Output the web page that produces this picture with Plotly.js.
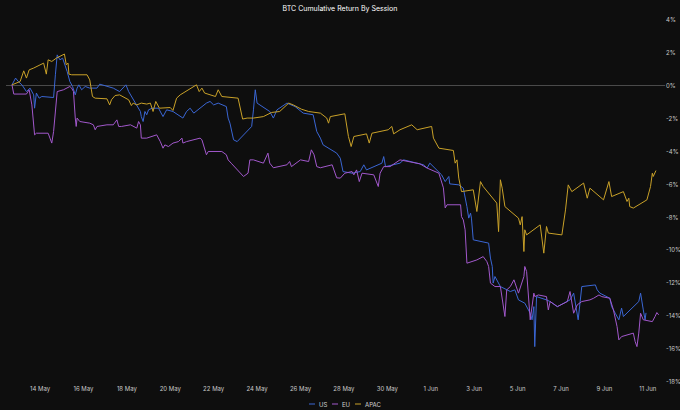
<!DOCTYPE html>
<html>
<head>
<meta charset="utf-8">
<script src="https://cdn.plot.ly/plotly-3.0.1.min.js"></script>
<style>
  html, body { margin: 0; padding: 0; background: #0e0e0e; }
  #chart { width: 680px; height: 410px; }
</style>
</head>
<body>
<div id="chart"></div>
<script>
// Start of the hourly timeline (hour offsets below are counted from here)
const startTime = '2025-05-12T00:00:00Z';

// US session cumulative return (%)
const usHours = [17,21,24,28,33,37,41,42,44,47,50,63,65,67,70,73,78,81,84,87,89,91,94,98,103,111,114,129,136,141,143,146,151,155,159,160,162,164,166,168,172,179,184,188,195,206,210,214,218,232,236,240,245,254,256,258,262,266,277,282,284,286,288,302,306,310,321,330,339,350,354,358,361,376,380,383,393,402,406,409,426,428,430,446,450,465,472,476,479,492,496,500,501,511,516,520,522,524,525,527,544,546,548,549,551,557,568,573,577,584,590,592,594,595,597,608,612,620,634,638,643,647,662,664,667,678,680,684,688,691,693,710,712,715,717,718];
const usReturn = [0.06,0.47,0.26,0.06,-0.35,-0.14,-0.55,-1.36,-0.44,-0.75,-0.65,-0.71,0.67,1.88,1.58,1.68,0.87,0.26,-0.04,-0.55,-0.14,0.06,-0.24,-0.04,-0.14,-0.14,0.10,-0.14,-0.35,-0.04,0.06,-0.35,-0.85,-1.16,-1.56,-1.87,-2.17,-1.56,-1.76,-1.46,-1.36,-1.36,-1.87,-1.46,-1.56,-1.96,-1.56,-1.36,-1.66,-1.05,-0.95,-1.16,-1.05,-1.26,-1.96,-2.27,-3.28,-3.39,-2.78,-2.47,-1.46,-0.24,-1.05,-1.56,-1.96,-1.46,-1.05,-1.26,-1.66,-1.76,-2.78,-3.18,-3.59,-4.09,-4.40,-5.21,-5.31,-5.21,-4.80,-5.11,-4.70,-4.30,-4.91,-4.70,-4.50,-4.70,-4.80,-5.00,-4.70,-5.41,-5.82,-5.51,-5.96,-6.02,-6.22,-7.34,-8.04,-7.74,-8.04,-9.36,-9.56,-10.47,-10.98,-11.99,-11.59,-12.20,-12.50,-12.40,-13.01,-13.21,-13.82,-14.22,-13.42,-15.85,-12.81,-13.01,-13.11,-13.42,-13.01,-12.60,-14.22,-12.20,-12.10,-12.40,-12.60,-12.91,-13.42,-13.82,-14.22,-13.51,-14.02,-13.11,-12.60,-13.62,-14.22,-13.80];

// EU session cumulative return (%)
const euHours = [17,19,33,36,39,41,42,44,57,59,61,63,66,67,74,81,83,85,87,88,89,92,103,107,109,111,122,129,133,135,138,148,155,157,159,160,166,177,181,184,186,190,195,201,205,206,210,225,227,230,232,234,249,254,256,260,273,278,280,284,295,300,302,306,321,324,326,336,345,348,351,354,358,371,376,380,385,393,395,398,401,404,417,422,424,428,435,446,468,476,489,494,496,498,513,514,516,518,520,531,538,542,544,546,551,557,562,564,568,572,577,583,584,586,590,594,595,599,608,610,612,620,631,634,636,638,642,647,656,660,666,669,678,682,686,688,691,697,704,706,708,710,712,715,725,728,730,732];
const euReturn = [0.06,-0.50,-0.50,-0.24,-1.16,-2.17,-2.98,-2.88,-2.88,-3.18,-3.48,-2.78,-1.16,-0.35,-0.24,-0.04,-0.14,-0.35,-1.96,-2.47,-1.96,-2.17,-2.27,-2.37,-2.67,-2.47,-2.37,-2.37,-2.07,-2.47,-2.47,-2.37,-2.57,-2.17,-2.37,-3.18,-3.18,-2.98,-3.39,-3.79,-3.59,-3.69,-3.48,-3.39,-3.18,-3.48,-3.39,-3.18,-3.28,-3.89,-4.19,-3.99,-3.99,-4.19,-4.50,-4.74,-5.51,-5.31,-4.50,-4.50,-4.70,-4.09,-4.70,-4.98,-4.80,-4.60,-4.91,-4.50,-4.60,-3.89,-4.19,-4.91,-4.98,-4.80,-5.59,-5.61,-5.31,-5.21,-5.41,-5.11,-5.82,-5.31,-5.41,-6.12,-5.31,-4.91,-4.91,-4.50,-4.74,-5.00,-5.31,-6.20,-7.42,-7.23,-7.23,-7.95,-8.15,-8.75,-10.78,-10.58,-10.38,-10.68,-10.98,-11.99,-12.20,-12.20,-14.02,-12.40,-12.20,-11.79,-12.60,-11.59,-10.98,-11.29,-14.22,-12.60,-12.81,-12.71,-12.81,-13.62,-13.11,-13.42,-13.11,-12.50,-13.11,-13.82,-13.31,-13.11,-13.01,-12.91,-12.71,-12.81,-12.91,-13.62,-14.63,-15.44,-15.24,-15.14,-15.03,-15.54,-15.85,-15.03,-13.82,-14.22,-14.33,-14.02,-13.78,-13.92];

// APAC session cumulative return (%)
const apacHours = [17,22,26,30,33,36,41,52,55,57,61,66,70,75,77,79,80,83,100,103,106,109,122,125,127,131,136,146,149,151,155,160,166,170,173,176,180,192,195,199,203,218,221,224,227,230,242,245,249,267,272,277,284,295,304,313,323,328,337,345,358,365,367,369,385,389,392,395,409,412,415,433,437,439,446,459,465,481,483,489,505,507,509,511,514,527,531,535,538,553,555,557,559,562,577,579,581,583,584,586,601,605,608,610,625,629,632,636,649,653,656,671,677,680,693,697,699,700,704,719,723,725,726,729];
const apacReturn = [0.06,0.16,0.26,0.91,0.47,0.97,1.08,1.38,0.71,1.58,1.48,1.68,1.78,1.93,1.28,1.38,0.71,0.67,0.67,0.36,-0.65,-0.75,-0.79,-1.16,-0.85,-0.59,-0.55,-0.85,-1.20,-1.05,-1.16,-1.05,-1.11,-1.05,-1.56,-0.95,-1.36,-1.32,-1.50,-0.75,-0.55,-0.04,0.06,-0.35,-0.14,-0.44,-0.65,-0.24,-0.65,-0.75,-2.02,-1.96,-1.96,-1.87,-1.62,-1.56,-1.05,-1.16,-1.42,-1.56,-1.66,-1.96,-2.27,-1.87,-1.70,-3.08,-3.69,-3.08,-2.92,-3.48,-2.88,-2.67,-2.47,-2.92,-2.67,-2.37,-2.67,-2.47,-3.18,-3.79,-3.93,-4.70,-4.50,-5.61,-6.43,-6.32,-7.64,-5.82,-6.12,-7.13,-8.86,-5.71,-6.22,-7.34,-8.04,-8.45,-7.95,-10.07,-8.75,-9.06,-8.45,-10.17,-8.55,-8.95,-9.06,-7.54,-6.02,-6.43,-5.91,-6.83,-6.22,-6.93,-5.82,-6.73,-6.43,-7.03,-6.83,-7.34,-7.43,-6.93,-6.12,-5.31,-5.51,-5.15];

// Visible time window (hours from start) and y-axis range (%)
const xWindowHours = [10.4, 739];
const yRange = [-18, 4];
const yTicks = [4, 2, 0, -2, -4, -6, -8, -10, -12, -14, -16, -18];
const yTickLabels = yTicks.map(v => v + '%');

const sessionNames = ['US', 'EU', 'APAC'];
const sessionColors = ['#3a66d4', '#a258cc', '#c9a128'];

function toTime(h) {
  const d = new Date(Date.parse(startTime) + h * 3600000);
  const p = n => String(n).padStart(2, '0');
  return d.getUTCFullYear() + '-' + p(d.getUTCMonth() + 1) + '-' + p(d.getUTCDate()) +
    ' ' + p(d.getUTCHours()) + ':' + p(d.getUTCMinutes());
}

const series = [
  [usHours, usReturn],
  [euHours, euReturn],
  [apacHours, apacReturn]
];

const traces = series.map((s, i) => ({
  type: 'scatter',
  mode: 'lines',
  name: sessionNames[i],
  x: s[0].map(toTime),
  y: s[1],
  line: { color: sessionColors[i], width: 1 }
}));

const font = 'Inter, "Noto Sans", "DejaVu Sans", sans-serif';

// Compact legend below the x axis (short swatch + label), in paper coordinates
const W = 680, H = 410, M = { l: 6, r: 15, t: 20, b: 28 };
const pw = W - M.l - M.r, ph = H - M.t - M.b;
const px = x => (x - M.l) / pw;
const py = y => (H - M.b - y) / ph;
const legendY = 404;
const legendSwatchX = [309, 332, 355];
const shapes = [];
const annotations = [];
sessionNames.forEach((name, i) => {
  shapes.push({
    type: 'line', xref: 'paper', yref: 'paper',
    x0: px(legendSwatchX[i]), x1: px(legendSwatchX[i] + 6),
    y0: py(legendY), y1: py(legendY),
    line: { color: sessionColors[i], width: 1 }
  });
  annotations.push({
    xref: 'paper', yref: 'paper',
    x: px(legendSwatchX[i] + 8), y: py(legendY),
    xanchor: 'left', yanchor: 'middle',
    text: name, showarrow: false,
    font: { family: font, size: 6, color: '#d0d0d0' }
  });
});

const layout = {
  width: W,
  height: H,
  paper_bgcolor: '#0e0e0e',
  plot_bgcolor: '#0e0e0e',
  margin: M,
  font: { family: font, color: '#d0d0d0', size: 6 },
  title: {
    text: 'BTC Cumulative Return By Session',
    font: { family: font, size: 7, color: '#ffffff' },
    x: 0.5, xanchor: 'center',
    y: 0.978, yanchor: 'middle', yref: 'container'
  },
  showlegend: false,
  shapes: shapes,
  annotations: annotations,
  xaxis: {
    type: 'date',
    range: xWindowHours.map(toTime),
    tick0: '2025-05-14',
    dtick: 2 * 86400000,
    tickformat: '%-d %b',
    showgrid: false,
    zeroline: false,
    showline: false,
    ticks: '',
    ticklabelstandoff: 2,
    tickfont: { family: font, size: 6, color: '#c8c8c8' }
  },
  yaxis: {
    side: 'right',
    range: yRange,
    tickvals: yTicks,
    ticktext: yTickLabels,
    showgrid: false,
    zeroline: true,
    zerolinecolor: '#4a4a4a',
    zerolinewidth: 1,
    showline: false,
    ticks: '',
    tickfont: { family: font, size: 6, color: '#c8c8c8' }
  }
};

Plotly.newPlot('chart', traces, layout, { staticPlot: true, displayModeBar: false });
</script>
</body>
</html>
